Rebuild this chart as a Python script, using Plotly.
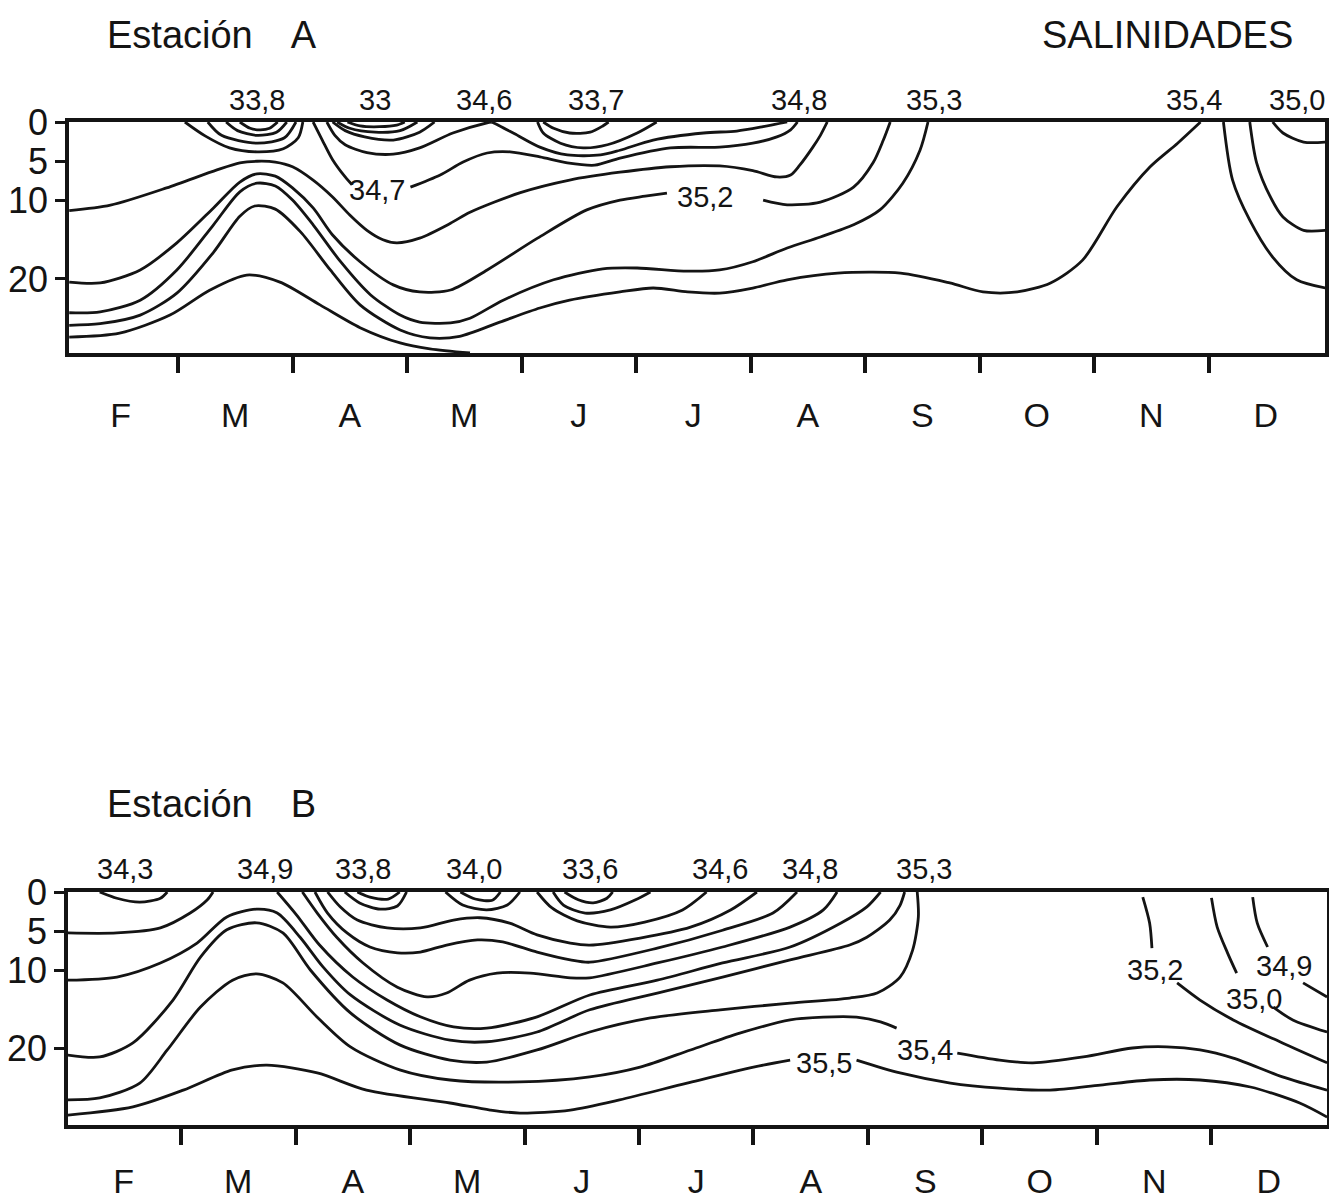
import plotly.graph_objects as go

# ---------------------------------------------------------------------------
# Axis values
# month position: 0 = start of February, 1 = start of March, ... ; depth in m
# ---------------------------------------------------------------------------
MONTHS = ["F", "M", "A", "M", "J", "J", "A", "S", "O", "N", "D"]
MONTH_CENTRES = [0.5, 1.5, 2.5, 3.5, 4.5, 5.5, 6.5, 7.5, 8.5, 9.5, 10.5]
MONTH_BOUNDS = [1, 2, 3, 4, 5, 6, 7, 8, 9, 10]
DEPTH_TICKS = [0, 5, 10, 20]
DEPTH_TEXT = ["0", "5", "10", "20"]

A_MONTH_RANGE = [0.048, 11.017]
A_DEPTH_MAX = 29.43
B_MONTH_RANGE = [0.013, 11.009]
B_DEPTH_MAX = 29.87

# ---------------------------------------------------------------------------
# Estación A - isohalines (month, depth)
# ---------------------------------------------------------------------------
A_338_1_M = [1.54, 1.63, 1.72, 1.80, 1.87]
A_338_1_D = [0, 0.8, 1.0, 0.8, 0]
A_338_2_M = [1.42, 1.52, 1.69, 1.86, 1.95]
A_338_2_D = [0, 1.1, 1.7, 1.3, 0]
A_338_3_M = [1.26, 1.38, 1.69, 1.93, 2.03]
A_338_3_D = [0, 1.7, 2.7, 2.0, 0]
A_338_4_M = [1.06, 1.24, 1.45, 1.69, 1.92, 2.05, 2.09]
A_338_4_D = [0, 1.8, 3.3, 3.8, 3.4, 2.0, 0]

A_33_1_M = [2.48, 2.59, 2.76, 2.91, 2.98]
A_33_1_D = [0, 0.5, 0.6, 0.4, 0]
A_33_2_M = [2.39, 2.50, 2.72, 2.94, 3.09]
A_33_2_D = [0, 0.8, 1.3, 1.1, 0]
A_33_3_M = [2.35, 2.46, 2.63, 2.88, 3.11, 3.24]
A_33_3_D = [0, 1.1, 1.9, 2.3, 1.3, 0]

A_346_W_M = [2.30, 2.37, 2.46, 2.65, 2.88, 3.11, 3.40, 3.70, 3.74]
A_346_W_D = [0, 1.7, 2.9, 3.9, 4.1, 3.3, 1.4, 0.1, 0]
A_346_E_M = [3.74, 3.81, 3.94, 4.16, 4.40, 4.69, 4.86, 5.15, 5.59, 5.88, 6.11, 6.32]
A_346_E_D = [0, 0.5, 1.5, 3.2, 4.2, 4.2, 3.6, 2.3, 1.4, 1.15, 0.6, 0]

A_337_1_M = [4.19, 4.28, 4.42, 4.60, 4.71, 4.76]
A_337_1_D = [0, 0.8, 1.4, 1.3, 0.5, 0]
A_337_2_M = [4.14, 4.19, 4.34, 4.54, 4.75, 5.01, 5.18]
A_337_2_D = [0, 1.4, 2.7, 3.3, 2.9, 1.4, 0]

A_347_M = [2.18, 2.26, 2.35, 2.46, 2.52, None,
           3.03, 3.29, 3.49, 3.70, 3.90, 4.16, 4.40, 4.64, 4.86,
           5.30, 5.73, 6.02, 6.23, 6.35, 6.41]
A_347_D = [0, 2.3, 4.8, 7.0, 8.0, None,
           8.3, 6.75, 5.1, 3.95, 3.8, 4.45, 5.2, 5.5, 4.6,
           3.3, 3.2, 2.7, 1.9, 1.0, 0]

A_348_M = [0.05, 0.41, 0.90, 1.34, 1.54, 1.69, 1.85, 2.00, 2.18, 2.35,
           2.50, 2.65, 2.79, 2.91, 3.11, 3.38, 3.55, 3.99, 4.42, 4.86,
           5.30, 5.73, 6.02, 6.23, 6.35, 6.43, 6.54, 6.61, 6.67]
A_348_D = [11.3, 10.6, 8.4, 6.1, 5.2, 5.0, 5.1, 5.7, 7.4, 9.55,
           11.85, 13.8, 15.0, 15.4, 14.8, 12.9, 11.5, 9.0, 7.4, 6.4,
           5.7, 5.6, 6.2, 7.0, 6.75, 5.5, 3.3, 1.7, 0]

A_352_M = [0.05, 0.32, 0.67, 0.99, 1.31, 1.54, 1.69, 1.85, 2.00, 2.18,
           2.35, 2.59, 2.88, 3.11, 3.38, 3.70, 4.14, 4.57, 4.86, 5.08,
           5.27, None, 6.11, 6.32, 6.61, 6.90, 7.07, 7.16, 7.22]
A_352_D = [20.4, 20.5, 18.85, 15.4, 10.95, 7.65, 6.6, 6.9, 8.4, 10.95,
           14.4, 17.8, 20.75, 21.65, 21.4, 18.85, 14.8, 11.2, 9.95, 9.45,
           9.05, None, 9.95, 10.55, 10.2, 8.3, 5.2, 2.3, 0]

A_353_M = [0.05, 0.32, 0.67, 0.99, 1.31, 1.54, 1.69, 1.85, 2.00, 2.18,
           2.42, 2.68, 2.94, 3.11, 3.38, 3.55, 3.84, 4.28, 4.71, 5.01,
           5.45, 5.73, 6.02, 6.32, 6.61, 6.90, 7.13, 7.33, 7.48, 7.55]
A_353_D = [24.3, 24.2, 22.7, 18.85, 13.1, 8.9, 7.8, 8.15, 9.95, 13.1,
           17.8, 22.0, 24.6, 25.5, 25.6, 25.0, 22.7, 20.1, 18.7, 18.6,
           19.0, 18.85, 17.8, 16.05, 14.65, 13.1, 11.2, 7.8, 3.6, 0]

A_354_M = [0.05, 0.32, 0.67, 0.99, 1.31, 1.54, 1.67, 1.85, 2.07, 2.33,
           2.59, 2.94, 3.20, 3.46, 3.81, 4.16, 4.42, 4.86, 5.15, 5.45,
           5.73, 6.02, 6.32, 6.76, 7.31, 7.74, 8.03, 8.33, 8.62, 8.90,
           9.20, 9.49, 9.73, 9.93]
A_354_D = [25.9, 25.7, 24.6, 21.8, 16.6, 12.0, 10.7, 11.1, 14.0, 18.85,
           23.3, 26.5, 27.5, 27.3, 25.5, 23.7, 22.7, 21.65, 21.15, 21.65,
           21.8, 21.15, 20.1, 19.25, 19.25, 20.5, 21.65, 21.65, 20.5, 17.6,
           10.8, 5.7, 2.7, 0]

A_355_M = [0.05, 0.49, 0.93, 1.28, 1.60, 1.89, 2.24, 2.59, 2.94, 3.20, 3.55]
A_355_D = [27.4, 26.9, 24.6, 21.4, 19.5, 20.4, 23.3, 26.2, 28.15, 28.9, 29.43]

A_DEC_1_M = [10.13, 10.21, 10.36, 10.56, 10.77, 11.02]
A_DEC_1_D = [0, 7.4, 12.5, 17.2, 20.1, 21.15]
A_DEC_2_M = [10.36, 10.42, 10.54, 10.65, 10.83, 11.02]
A_DEC_2_D = [0, 5.2, 9.55, 12.1, 13.8, 13.8]
A_DEC_3_M = [10.56, 10.65, 10.83, 11.02]
A_DEC_3_D = [0, 1.4, 2.55, 2.55]

A_SURFACE_TEXT = ["33,8", "33", "34,6", "33,7", "34,8", "35,3", "35,4", "35,0"]
A_SURFACE_M = [1.69, 2.72, 3.67, 4.65, 6.42, 7.60, 9.87, 10.77]
A_INLINE_TEXT = ["34,7", "35,2"]
A_INLINE_M = [2.74, 5.60]
A_INLINE_D = [8.66, 9.55]

# ---------------------------------------------------------------------------
# Estación B - isohalines (month, depth)
# ---------------------------------------------------------------------------
B_343_M = [0.29, 0.44, 0.64, 0.82, 0.88]
B_343_D = [0, 0.8, 1.3, 0.8, 0]
B_SHALLOW_M = [0.01, 0.44, 0.82, 1.08, 1.23, 1.28]
B_SHALLOW_D = [5.25, 5.25, 4.6, 2.7, 1.0, 0]

B_338_1_M = [2.43, 2.56, 2.74, 2.89, 2.97]
B_338_1_D = [0, 1.4, 2.2, 1.8, 0]
B_338_2_M = [2.54, 2.65, 2.81, 2.91]
B_338_2_D = [0, 0.65, 0.9, 0]
B_340_1_M = [3.31, 3.46, 3.67, 3.85, 3.96]
B_340_1_D = [0, 1.67, 2.3, 1.67, 0]
B_340_2_M = [3.44, 3.57, 3.72, 3.79]
B_340_2_D = [0, 0.9, 1.05, 0]
B_336_1_M = [4.35, 4.47, 4.60, 4.72, 4.77]
B_336_1_D = [0, 1.0, 1.4, 0.8, 0]
B_336_2_M = [4.25, 4.34, 4.53, 4.75, 4.97, 5.10]
B_336_2_D = [0, 1.67, 2.7, 2.3, 1.0, 0]
B_336_3_M = [4.11, 4.24, 4.46, 4.75, 5.05, 5.38, 5.59]
B_336_3_D = [0, 2.05, 3.7, 4.5, 3.85, 2.3, 0]

B_346_M = [2.28, 2.39, 2.54, 2.80, 3.09, 3.38, 3.61, 3.87, 4.11, 4.40,
           4.57, 5.01, 5.45, 5.80, 6.03]
B_346_D = [0, 1.9, 3.6, 4.6, 4.6, 3.6, 3.3, 4.0, 5.5, 6.55,
           6.8, 5.9, 4.5, 2.3, 0]
B_347_M = [2.17, 2.28, 2.45, 2.65, 2.89, 3.09, 3.32, 3.59, 3.81, 4.11,
           4.40, 4.57, 5.16, 5.73, 6.17, 6.38]
B_347_D = [0, 2.7, 5.25, 7.05, 7.8, 7.7, 6.8, 6.15, 6.4, 7.7,
           8.7, 9.0, 7.2, 4.9, 2.7, 0]
B_348_M = [2.06, 2.19, 2.36, 2.59, 2.89, 3.15, 3.32, 3.52, 3.76, 4.05,
           4.40, 4.57, 5.16, 5.73, 6.32, 6.61, 6.73]
B_348_D = [0, 2.7, 5.8, 9.1, 12.2, 13.45, 12.95, 11.3, 10.4, 10.4,
           11.0, 11.0, 9.1, 7.05, 4.5, 2.3, 0]
B_349_M = [1.84, 2.01, 2.21, 2.50, 2.80, 3.09, 3.38, 3.67, 4.11, 4.57,
           5.16, 5.73, 6.32, 6.76, 6.99, 7.11]
B_349_D = [0, 2.95, 6.8, 10.9, 13.85, 16.0, 17.3, 17.45, 16.0, 13.2,
           11.3, 9.1, 7.05, 4.0, 1.9, 0]
B_351_M = [0.01, 0.44, 0.82, 1.14, 1.40, 1.66, 1.84, 2.04, 2.24, 2.48,
           2.91, 3.35, 3.67, 4.11, 4.57, 5.16, 5.73, 6.32, 6.84, 6.99,
           7.19, 7.28, 7.32]
B_351_D = [11.3, 10.9, 9.1, 6.55, 3.2, 2.2, 2.7, 5.8, 9.6, 13.2,
           17.05, 19.0, 19.2, 17.95, 15.1, 12.95, 10.9, 8.7, 6.8, 5.8,
           3.6, 1.7, 0]
B_353_M = [0.01, 0.29, 0.58, 0.93, 1.17, 1.40, 1.66, 1.89, 2.13, 2.48,
           2.91, 3.35, 3.67, 4.11, 4.57, 5.10, 5.71, 6.32, 6.84, 7.08,
           7.28, 7.39, 7.44, 7.43]
B_353_D = [20.9, 21.15, 19.35, 13.85, 8.35, 4.85, 3.95, 5.25, 10.0, 15.5,
           19.6, 21.55, 21.8, 20.25, 17.95, 16.15, 15.1, 14.25, 13.6, 12.95,
           10.9, 7.45, 3.2, 0]
B_354_M = [0.01, 0.29, 0.64, 0.88, 1.17, 1.45, 1.66, 1.89, 2.19, 2.48,
           2.91, 3.35, 3.96, 4.57, 5.01, 5.45, 5.88, 6.32, 6.61, 6.90,
           7.11, 7.25, None, 7.78, 8.15, 8.44, 8.88, 9.31, 9.61, 9.90,
           10.19, 10.62, 11.01]
B_354_D = [26.65, 26.4, 24.5, 20.25, 14.75, 11.3, 10.5, 11.65, 16.05, 19.85,
           22.8, 24.1, 24.35, 23.7, 22.45, 20.25, 18.1, 16.4, 16.05, 16.05,
           16.65, 17.45, None, 20.65, 21.55, 21.9, 21.15, 20.0, 19.85, 20.25,
           21.3, 23.7, 25.4]
B_355_M = [0.01, 0.58, 1.02, 1.45, 1.75, 2.19, 2.62, 3.35, 3.70, 3.96,
           4.40, 4.83, 5.42, 6.00, 6.32, None, 6.90, 7.28, 7.72, 8.15,
           8.59, 9.03, 9.46, 9.90, 10.34, 10.77, 11.01]
B_355_D = [28.6, 27.55, 25.4, 22.8, 22.2, 23.2, 25.4, 27.05, 27.95, 28.35,
           27.95, 26.65, 24.5, 22.45, 21.55, None, 21.55, 23.2, 24.5, 25.15,
           25.4, 24.75, 24.1, 24.1, 25.0, 27.05, 28.85]

B_352_M = [9.40, 9.46, 9.48, None, 9.70, 9.90, 10.19, 10.62, 11.01]
B_352_D = [0.65, 4.0, 7.2, None, 11.65, 13.85, 16.4, 19.35, 21.9]
B_350_M = [10.00, 10.05, 10.14, 10.22, None, 10.54, 10.71, 11.01]
B_350_D = [0.75, 4.5, 7.8, 10.4, None, 14.75, 16.4, 17.95]
B_349_DEC_M = [10.36, 10.40, 10.49, None, 10.80, 11.01]
B_349_DEC_D = [0.65, 4.0, 7.05, None, 11.65, 13.45]

B_SURFACE_TEXT = ["34,3", "34,9", "33,8", "34,0", "33,6", "34,6", "34,8", "35,3"]
B_SURFACE_M = [0.51, 1.73, 2.59, 3.56, 4.57, 5.71, 6.49, 7.49]
B_INLINE_TEXT = ["35,5", "35,4", "35,2", "35,0", "34,9"]
B_INLINE_M = [6.62, 7.50, 9.51, 10.37, 10.63]
B_INLINE_D = [21.9, 20.25, 10.0, 13.7, 9.5]

A_LINES = [
    (A_338_1_M, A_338_1_D), (A_338_2_M, A_338_2_D), (A_338_3_M, A_338_3_D),
    (A_338_4_M, A_338_4_D), (A_33_1_M, A_33_1_D), (A_33_2_M, A_33_2_D),
    (A_33_3_M, A_33_3_D), (A_346_W_M, A_346_W_D), (A_346_E_M, A_346_E_D),
    (A_337_1_M, A_337_1_D), (A_337_2_M, A_337_2_D), (A_347_M, A_347_D),
    (A_348_M, A_348_D), (A_352_M, A_352_D), (A_353_M, A_353_D),
    (A_354_M, A_354_D), (A_355_M, A_355_D), (A_DEC_1_M, A_DEC_1_D),
    (A_DEC_2_M, A_DEC_2_D), (A_DEC_3_M, A_DEC_3_D),
]
B_LINES = [
    (B_343_M, B_343_D), (B_SHALLOW_M, B_SHALLOW_D), (B_338_1_M, B_338_1_D),
    (B_338_2_M, B_338_2_D), (B_340_1_M, B_340_1_D), (B_340_2_M, B_340_2_D),
    (B_336_1_M, B_336_1_D), (B_336_2_M, B_336_2_D), (B_336_3_M, B_336_3_D),
    (B_346_M, B_346_D), (B_347_M, B_347_D), (B_348_M, B_348_D),
    (B_349_M, B_349_D), (B_351_M, B_351_D), (B_353_M, B_353_D),
    (B_354_M, B_354_D), (B_355_M, B_355_D), (B_352_M, B_352_D),
    (B_350_M, B_350_D), (B_349_DEC_M, B_349_DEC_D),
]

# ---------------------------------------------------------------------------
INK = "#141414"
TXT_FONT = "Liberation Sans, Arial, sans-serif"
NUM_FONT = "Liberation Sans Narrow, Arial Narrow, Liberation Sans, sans-serif"

fig = go.Figure()


def add_isoline(month, depth, xa, ya):
    fig.add_trace(go.Scatter(
        x=month, y=depth, mode="lines", xaxis=xa, yaxis=ya,
        line=dict(color=INK, width=2.8, shape="spline", smoothing=0.8),
        connectgaps=False, hoverinfo="skip", showlegend=False))


for m, d in A_LINES:
    add_isoline(m, d, "x", "y")
for m, d in B_LINES:
    add_isoline(m, d, "x2", "y2")

annotations = []


def label(text, x, y, xref, yref, size=29):
    annotations.append(dict(
        text=text, x=x, y=y, xref=xref, yref=yref, showarrow=False,
        xanchor="center", yanchor="middle",
        font=dict(family=NUM_FONT, size=size, color=INK)))


# values where the isolines reach the surface, written just above the frame
for t, m in zip(A_SURFACE_TEXT, A_SURFACE_M):
    label(t, m, 1.095, "x", "y domain")
for t, m, d in zip(A_INLINE_TEXT, A_INLINE_M, A_INLINE_D):
    label(t, m, d, "x", "y")
for t, m in zip(B_SURFACE_TEXT, B_SURFACE_M):
    label(t, m, 1.099, "x2", "y2 domain")
for t, m, d in zip(B_INLINE_TEXT, B_INLINE_M, B_INLINE_D):
    label(t, m, d, "x2", "y2")

for text, x, y, anchor in [
    ("Estación\u2003A", 105 / 1329, 1 - 35 / 1199, "left"),
    ("SALINIDADES", 1295 / 1329, 1 - 35 / 1199, "right"),
    ("Estación\u2003B", 105 / 1329, 1 - 804 / 1199, "left"),
]:
    annotations.append(dict(
        text=text, x=x, y=y, xref="paper", yref="paper", showarrow=False,
        xanchor=anchor, yanchor="middle",
        font=dict(family=TXT_FONT, size=38, color=INK)))


def month_axis(domain, rng, anchor, standoff):
    return dict(
        domain=domain, range=rng, anchor=anchor, automargin=False,
        showgrid=False, zeroline=False,
        showline=True, mirror=True, linecolor=INK, linewidth=3.5,
        tickmode="array", tickvals=MONTH_CENTRES, ticktext=MONTHS,
        ticks="", ticklabelstandoff=standoff,
        tickfont=dict(family=TXT_FONT, size=34, color=INK),
        minor=dict(tickmode="array", tickvals=MONTH_BOUNDS, ticks="outside",
                   ticklen=16, tickwidth=4, tickcolor=INK, showgrid=False),
        fixedrange=True)


def depth_axis(domain, depth_max, anchor):
    return dict(
        domain=domain, range=[depth_max, 0], anchor=anchor, automargin=False,
        showgrid=False, zeroline=False,
        showline=True, mirror=True, linecolor=INK, linewidth=3.5,
        tickmode="array", tickvals=DEPTH_TICKS, ticktext=DEPTH_TEXT,
        ticks="outside", ticklen=10, tickwidth=3, tickcolor=INK,
        tickfont=dict(family=NUM_FONT, size=36, color=INK),
        fixedrange=True)


fig.update_layout(
    width=1329, height=1199,
    margin=dict(l=0, r=0, t=0, b=0, autoexpand=False),
    paper_bgcolor="white", plot_bgcolor="white",
    showlegend=False,
    xaxis=month_axis([69 / 1329, 1325 / 1329], A_MONTH_RANGE, "y", 29),
    yaxis=depth_axis([1 - 353 / 1199, 1 - 122 / 1199], A_DEPTH_MAX, "x"),
    xaxis2=month_axis([68 / 1329, 1327 / 1329], B_MONTH_RANGE, "y2", 23),
    yaxis2=depth_axis([1 - 1125 / 1199, 1 - 892 / 1199], B_DEPTH_MAX, "x2"),
    annotations=annotations,
)

fig.write_html("out.html")
